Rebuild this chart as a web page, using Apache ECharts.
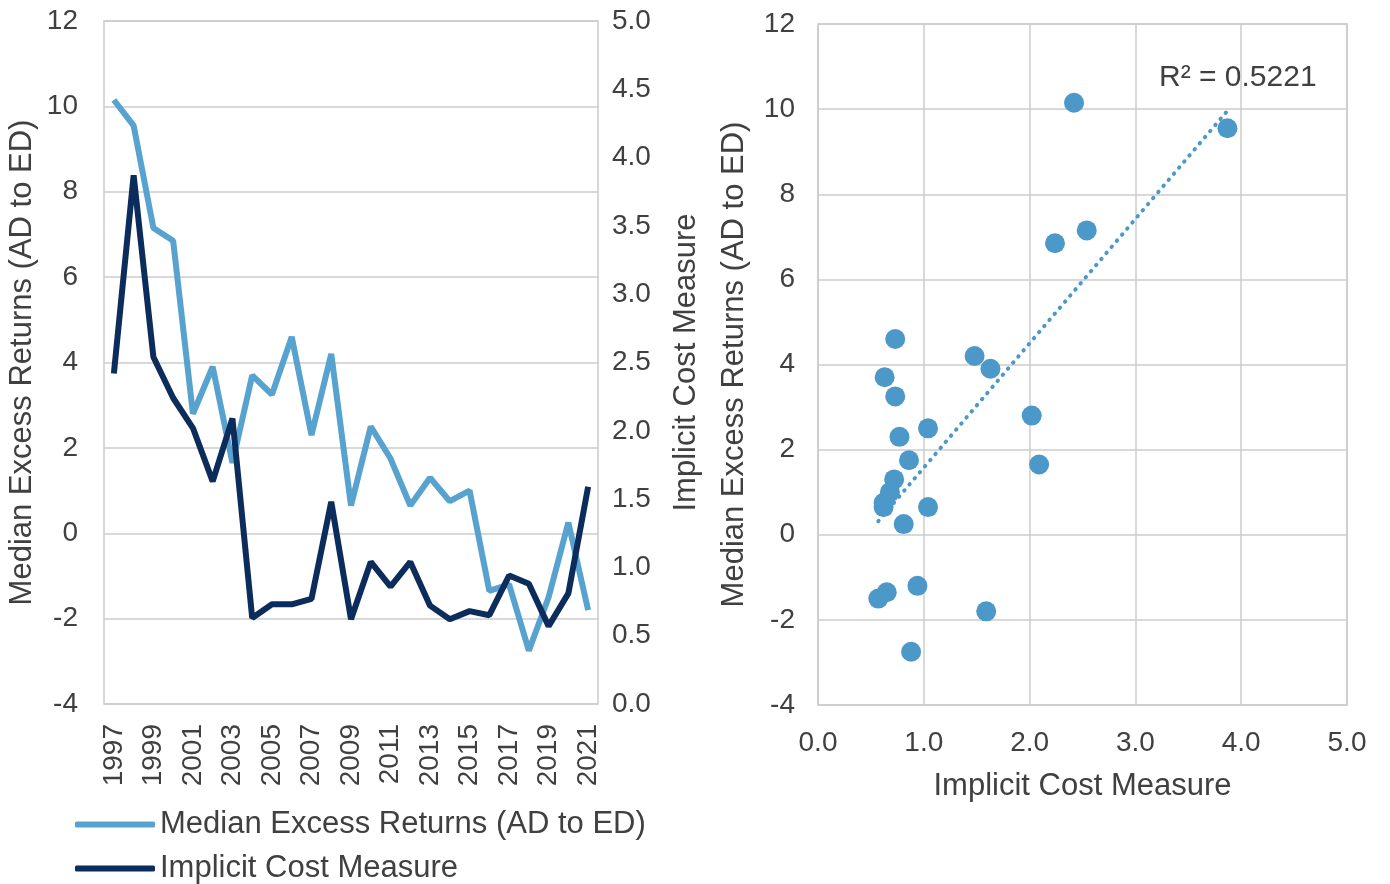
<!DOCTYPE html>
<html>
<head>
<meta charset="utf-8">
<script src="https://cdn.jsdelivr.net/npm/echarts@6/dist/echarts.min.js"></script>
<style>
html,body{margin:0;padding:0;background:#fff;}
#chart{width:1390px;height:884px;}
</style>
</head>
<body>
<div id="chart"></div>
<script>
const years = ['1997','1998','1999','2000','2001','2002','2003','2004','2005','2006','2007','2008','2009','2010','2011','2012','2013','2014','2015','2016','2017','2018','2019','2020','2021'];
const excessReturns = [10.15, 9.55, 7.15, 6.85, 2.8, 3.9, 1.65, 3.7, 3.25, 4.6, 2.3, 4.2, 0.65, 2.5, 1.75, 0.65, 1.3, 0.75, 1.0, -1.35, -1.2, -2.75, -1.5, 0.25, -1.8];
const implicitCost = [2.42, 3.87, 2.54, 2.24, 2.02, 1.63, 2.09, 0.63, 0.73, 0.73, 0.77, 1.48, 0.62, 1.04, 0.86, 1.04, 0.72, 0.62, 0.68, 0.65, 0.94, 0.88, 0.57, 0.81, 1.59];
const leftTicks = {min: -4, max: 12, interval: 2};
const rightTicks = {min: 0, max: 5, interval: 0.5};
const scatterXTicks = {min: 0, max: 5, interval: 1};
const r2Label = 'R² = 0.5221';
const seriesNames = ['Median Excess Returns (AD to ED)', 'Implicit Cost Measure'];

// scatter pairs and least-squares trendline derived from the data arrays
const scatterData = implicitCost.map((c, i) => [c, excessReturns[i]]);
const n = scatterData.length;
const mx = scatterData.reduce((s, p) => s + p[0], 0) / n;
const my = scatterData.reduce((s, p) => s + p[1], 0) / n;
let sxy = 0, sxx = 0;
scatterData.forEach(p => { sxy += (p[0] - mx) * (p[1] - my); sxx += (p[0] - mx) * (p[0] - mx); });
const slope = sxy / sxx, icpt = my - slope * mx;
const xMin = Math.min(...implicitCost), xMax = Math.max(...implicitCost);
const trendData = [[xMin, icpt + slope * xMin], [xMax, icpt + slope * xMax]];

const TXT = '#404040';
const FONT = 'Liberation Sans, Arial, sans-serif';
const LIGHT = '#58a2cf';
const DARK = '#0c2d5c';
const DOT = '#4c98c8';
const GRIDC = '#cccccc';

const legendBase = {
  orient: 'vertical', left: 75, padding: 0, itemWidth: 80, itemHeight: 6, icon: 'roundRect',
  textStyle: {fontSize: 31, color: TXT, fontFamily: FONT}, itemGap: 4
};

const chart = echarts.init(document.getElementById('chart'));
chart.setOption({
  animation: false,
  textStyle: {fontFamily: FONT, color: TXT},
  grid: [
    {left: 104, right: 792, top: 21, bottom: 180, show: true, borderColor: GRIDC, borderWidth: 1.5},
    {left: 818, right: 43, top: 24, bottom: 179, show: true, borderColor: GRIDC, borderWidth: 1.5}
  ],
  legend: [
    Object.assign({}, legendBase, {top: 809, data: [seriesNames[0]]}),
    Object.assign({}, legendBase, {top: 853, data: [seriesNames[1]]})
  ],
  xAxis: [
    {type: 'category', gridIndex: 0, data: years, boundaryGap: true,
     axisLine: {show: false}, axisTick: {show: false},
     axisLabel: {rotate: 90, interval: 1, fontSize: 28, color: TXT, margin: 20}},
    {type: 'value', gridIndex: 1, min: scatterXTicks.min, max: scatterXTicks.max, interval: scatterXTicks.interval,
     axisLine: {show: false}, axisTick: {show: false},
     splitLine: {show: true, lineStyle: {color: GRIDC, width: 1.5}},
     axisLabel: {fontSize: 28, color: TXT, margin: 24, formatter: v => v.toFixed(1)},
     name: 'Implicit Cost Measure', nameLocation: 'middle', nameGap: 66,
     nameTextStyle: {fontSize: 31, color: TXT}}
  ],
  yAxis: [
    {type: 'value', gridIndex: 0, min: leftTicks.min, max: leftTicks.max, interval: leftTicks.interval,
     axisLine: {show: false}, axisTick: {show: false},
     splitLine: {show: true, lineStyle: {color: GRIDC, width: 1.5}},
     axisLabel: {fontSize: 28, color: TXT, margin: 26},
     name: seriesNames[0], nameLocation: 'middle', nameGap: 66,
     nameTextStyle: {fontSize: 31, color: TXT}},
    {type: 'value', gridIndex: 0, position: 'right', min: rightTicks.min, max: rightTicks.max, interval: rightTicks.interval,
     axisLine: {show: false}, axisTick: {show: false}, splitLine: {show: false},
     axisLabel: {fontSize: 28, color: TXT, margin: 14, formatter: v => v.toFixed(1)},
     name: seriesNames[1], nameLocation: 'middle', nameGap: 73, nameRotate: 90,
     nameTextStyle: {fontSize: 31, color: TXT}},
    {type: 'value', gridIndex: 1, min: leftTicks.min, max: leftTicks.max, interval: leftTicks.interval,
     axisLine: {show: false}, axisTick: {show: false},
     splitLine: {show: true, lineStyle: {color: GRIDC, width: 1.5}},
     axisLabel: {fontSize: 28, color: TXT, margin: 23},
     name: seriesNames[0], nameLocation: 'middle', nameGap: 68,
     nameTextStyle: {fontSize: 31, color: TXT}}
  ],
  series: [
    {name: seriesNames[0], type: 'line', xAxisIndex: 0, yAxisIndex: 0, data: excessReturns,
     symbol: 'none', lineStyle: {color: LIGHT, width: 6}, itemStyle: {color: LIGHT}},
    {name: seriesNames[1], type: 'line', xAxisIndex: 0, yAxisIndex: 1, data: implicitCost,
     symbol: 'none', lineStyle: {color: DARK, width: 6}, itemStyle: {color: DARK}},
    {type: 'line', xAxisIndex: 1, yAxisIndex: 2, data: trendData, symbol: 'none',
     lineStyle: {color: DOT, width: 4, type: [0.5, 7.5], cap: 'round'}, z: 1},
    {type: 'scatter', xAxisIndex: 1, yAxisIndex: 2, data: scatterData, symbolSize: 20,
     itemStyle: {color: DOT, opacity: 1}, z: 3}
  ],
  graphic: [
    {type: 'text', left: 1159, top: 63, style: {text: r2Label, fontSize: 30, fill: TXT, fontFamily: FONT}}
  ]
});
</script>
</body>
</html>
